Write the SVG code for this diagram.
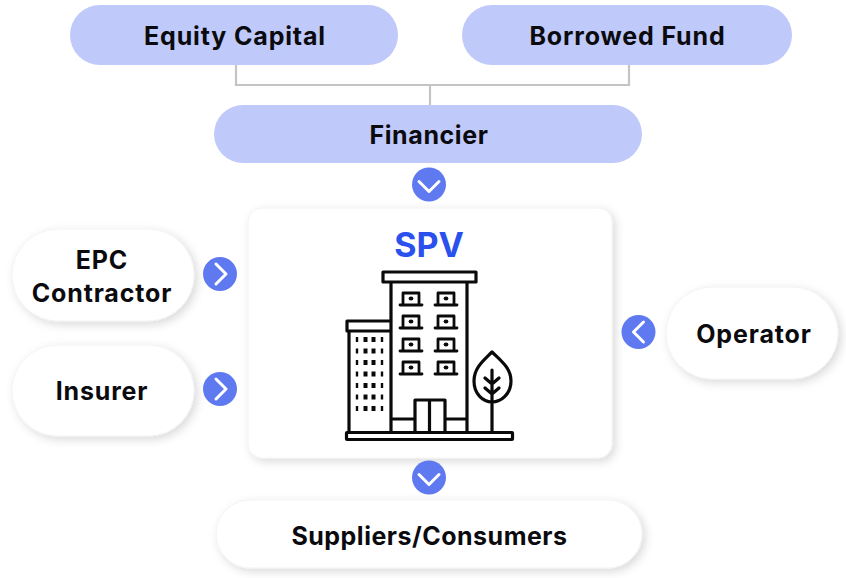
<svg xmlns="http://www.w3.org/2000/svg" width="846" height="578" viewBox="0 0 846 578">
<style>
.t{font-family:"Inter","Liberation Sans",sans-serif;font-weight:700;font-size:25px;fill:#0b0b0f;text-anchor:middle;letter-spacing:.85px}
.b{fill:#bfc9fa}
.w{fill:#fff;stroke:#f3f3f3;stroke-width:1;filter:url(#s)}
.c{fill:#5f7af0}
.g{fill:none;stroke:#fff;stroke-width:3;stroke-linecap:round;stroke-linejoin:round}
.k{fill:none;stroke:#0a0a0a;stroke-width:3.2;stroke-linejoin:round;stroke-linecap:round}
.d{fill:none;stroke:#0a0a0a;stroke-width:2.400;stroke-dasharray:5 6.500}
.e{fill:none;stroke:#0a0a0a;stroke-width:4;stroke-dasharray:5 6.500}
</style>
<defs>
<filter id="s" x="-20%" y="-30%" width="140%" height="160%"><feDropShadow dx="3" dy="3" stdDeviation="5" flood-color="#000" flood-opacity=".15"/></filter>
<g id="win"><path class="k" d="M3 11V0H19V11M0 12H22" style="stroke-width:2.800"/><ellipse cx="11" cy="5.500" rx="2.400" ry="1.900" fill="#0a0a0a"/></g>
</defs>
<g id="connectors" fill="none" stroke="#c4c4c4" stroke-width="2.200">
<path d="M236 65V85H629V65M430 85V105"/>
</g>
<g id="equity"><rect class="b" x="70" y="5" width="328" height="60" rx="30"/><text class="t" x="235" y="45">Equity Capital</text></g>
<g id="borrowed"><rect class="b" x="462" y="5" width="330" height="60" rx="30"/><text class="t" x="627.500" y="45">Borrowed Fund</text></g>
<g id="financier"><rect class="b" x="214" y="105" width="428" height="58" rx="29"/><text class="t" x="429" y="144" style="letter-spacing:.6px">Financier</text></g>
<g id="spv">
<rect class="w" x="248" y="208" width="364" height="250" rx="14"/>
<text x="429" y="257" text-anchor="middle" font-family="Inter,'Liberation Sans',sans-serif" font-weight="700" font-size="34" fill="#2a50ee">SPV</text>
<g id="building">
<path class="k" d="M383 272H476V282H383ZM391 282V432M467 282V432M347 321H391V331H347ZM349 331V432M391 419H414M445 419H467M415 432V400H445V432M429.500 400V432"/>
<use href="#win" x="400" y="293"/><use href="#win" x="435" y="293"/>
<use href="#win" x="400" y="316"/><use href="#win" x="435" y="316"/>
<use href="#win" x="400" y="339"/><use href="#win" x="435" y="339"/>
<use href="#win" x="400" y="362"/><use href="#win" x="435" y="362"/>
<path class="d" d="M357 337V414M382 337V414"/>
<path class="e" d="M365.500 337V414M373.500 337V414"/>
<path class="k" d="M492 352C483 361 474 368 474 381C474 394 483 402 492 402C501 402 511 394 511 381C511 368 501 361 492 352ZM492 370V432M485 378L492 384L499 378M485 388L492 394L499 388"/>
<rect x="346.500" y="432.500" width="166" height="7" fill="#fff" stroke="#0a0a0a" stroke-width="3.200" rx=".5"/>
</g>
</g>
<g id="arrow-top"><circle class="c" cx="429" cy="184.500" r="17"/><path class="g" d="M419 181.500L429 191.500L439 181.500"/></g>
<g id="epc"><rect class="w" x="12" y="229" width="182" height="92" rx="46"/><text class="t" x="102" y="269">EPC</text><text class="t" x="102" y="302">Contractor</text></g>
<g id="arrow-epc"><circle class="c" cx="220" cy="274" r="17"/><path class="g" d="M216 264L226 274L216 284"/></g>
<g id="insurer"><rect class="w" x="12" y="345" width="182" height="91" rx="45.500"/><text class="t" x="102" y="400">Insurer</text></g>
<g id="arrow-insurer"><circle class="c" cx="220" cy="389" r="17"/><path class="g" d="M216 379L226 389L216 399"/></g>
<g id="operator"><rect class="w" x="666" y="287" width="172" height="92" rx="46"/><text class="t" x="754" y="343">Operator</text></g>
<g id="arrow-operator"><circle class="c" cx="638.500" cy="332" r="17"/><path class="g" d="M643.500 322L633.500 332L643.500 342"/></g>
<g id="arrow-bottom"><circle class="c" cx="429" cy="477.500" r="17"/><path class="g" d="M419 474.500L429 484.500L439 474.500"/></g>
<g id="suppliers"><rect class="w" x="216" y="500" width="426" height="68" rx="34"/><text class="t" x="429.500" y="545" style="letter-spacing:.5px">Suppliers/Consumers</text></g>
</svg>
